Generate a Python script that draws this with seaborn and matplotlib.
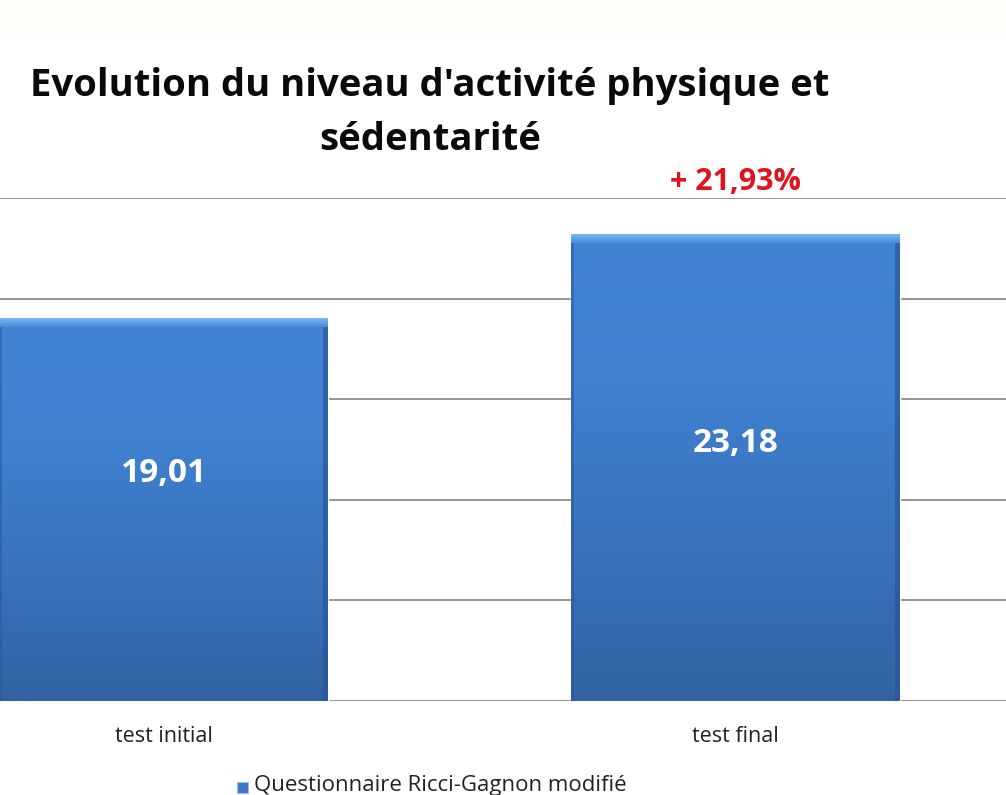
import matplotlib.pyplot as plt
import seaborn as sns
import numpy as np
import pandas as pd
from matplotlib.patches import Rectangle

categories = ["test initial", "test final"]
values = [19.01, 23.18]
value_labels = ["19,01", "23,18"]
series_name = "Questionnaire Ricci-Gagnon modifié"
progress_label = "+ 21,93%"
title = "Evolution du niveau d'activité physique et\nsédentarité"

df = pd.DataFrame({"test": categories, "score": values})

sns.set_theme(style="white")
plt.rcParams["font.family"] = ["Open Sans", "DejaVu Sans"]

fig = plt.figure(figsize=(10.06, 7.95), dpi=100)
fig.patch.set_facecolor("white")
# light band along the top of the screenshot
fig.patches.append(Rectangle((0, 1 - 33 / 795), 1, 33 / 795, transform=fig.transFigure,
                             facecolor="#fefdf8", edgecolor="none", zorder=0))

ax = fig.add_axes([0, 1 - 701 / 795, 1, (701 - 198) / 795])
sns.barplot(data=df, x="test", y="score", color="#3a72bb", width=0.575,
            saturation=1, ax=ax, zorder=3)

ax.set_ylim(0, 25)
ax.set_xlim(-0.286, 0.473 + 1)
ax.set_yticks(np.arange(0, 26, 5))
ax.yaxis.grid(True, color="#8c8c8c", linewidth=1.3)
ax.set_axisbelow(True)
for s in ax.spines.values():
    s.set_visible(False)
ax.tick_params(axis="y", left=False, labelleft=False)
ax.tick_params(axis="x", bottom=False, labelsize=15.5, labelcolor="#222222", pad=12)
ax.set_xlabel("")
ax.set_ylabel("")

# vertical gradient on each bar, with a light bevel on top
grad = np.linspace(0, 1, 256).reshape(-1, 1)
cmap = sns.blend_palette(["#3262a2", "#3a72bb", "#3f80cf", "#4284d4"], as_cmap=True)
bevel = sns.blend_palette(["#4a8ad8", "#7ab8f2"], as_cmap=True)
for bar in ax.patches:
    x0, y0 = bar.get_x(), bar.get_y()
    w, h = bar.get_width(), bar.get_height()
    im = ax.imshow(grad, extent=[x0, x0 + w, y0, y0 + h], origin="lower",
                   cmap=cmap, aspect="auto", zorder=4)
    im.set_clip_path(bar)
    ax.imshow(grad, extent=[x0, x0 + w, y0 + h - 0.42, y0 + h], origin="lower",
              cmap=bevel, aspect="auto", zorder=5)
    ax.add_patch(Rectangle((x0 + w - 0.008, y0), 0.008, h - 0.42, facecolor="#2c5597",
                           edgecolor="none", zorder=5, alpha=0.7))
    ax.add_patch(Rectangle((x0, y0), 0.005, h - 0.42, facecolor="#2c5597",
                           edgecolor="none", zorder=5, alpha=0.5))

for i, (v, lab) in enumerate(zip(values, value_labels)):
    ax.text(i, v * (0.595 if i == 0 else 0.553), lab, ha="center", va="center",
            color="white", fontsize=24, fontweight="bold", zorder=6)

ax.text(1, 25.05, progress_label, ha="center", va="bottom", color="#e0141e",
        fontsize=22, fontweight="bold")

fig.text(430 / 1006, 1 - 113 / 795, title, ha="center", va="center",
         fontsize=27.5, fontweight="bold", color="#0a0a0a", linespacing=1.55,
         multialignment="center")

# legend, near the bottom edge as in the screenshot
fig.patches.append(Rectangle((237 / 1006, 1 - 793 / 795), 11 / 1006, 11 / 795,
                             transform=fig.transFigure, facecolor="#3f78c6",
                             edgecolor="#9dbbe3", linewidth=0.8))
fig.text(254 / 1006, 1 - 785 / 795, series_name, ha="left", va="center",
         fontsize=16, color="#222222")

fig.savefig("out.png", dpi=100)
